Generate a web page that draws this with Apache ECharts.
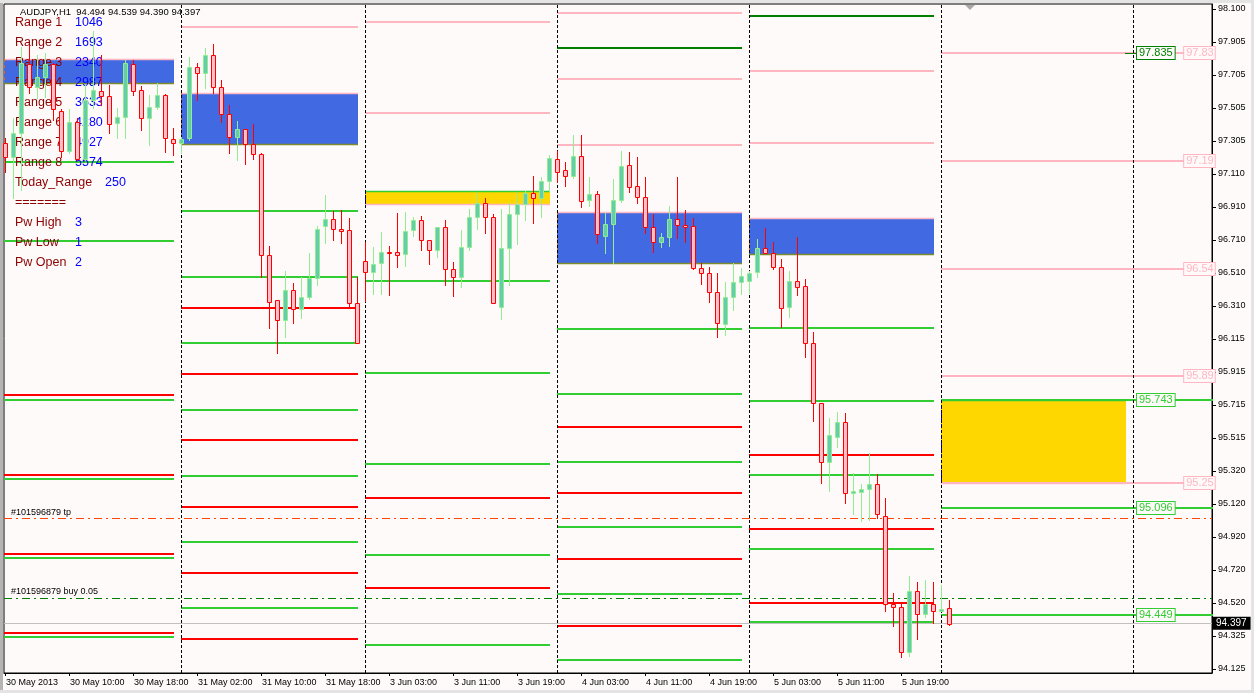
<!DOCTYPE html>
<html><head><meta charset="utf-8">
<script src="https://cdn.jsdelivr.net/npm/echarts@6/dist/echarts.min.js"></script>
<style>html,body{margin:0;padding:0;background:#FFFAFA;}#c{width:1254px;height:693px;}</style>
</head><body><div id="c"></div>
<script>
// ---------------- DATA ----------------
const symbolTitle = 'AUDJPY,H1';
const headerOHLC = ['94.494', '94.539', '94.390', '94.397'];

const timeLabels = ['30 May 2013', '30 May 10:00', '30 May 18:00', '31 May 02:00', '31 May 10:00', '31 May 18:00',
  '3 Jun 03:00', '3 Jun 11:00', '3 Jun 19:00', '4 Jun 03:00', '4 Jun 11:00', '4 Jun 19:00',
  '5 Jun 03:00', '5 Jun 11:00', '5 Jun 19:00'];
const timeLabelBars = [0, 8, 16, 24, 32, 40, 48, 56, 64, 72, 80, 88, 96, 104, 112];

const priceTicks = ['98.100', '97.905', '97.705', '97.505', '97.305', '97.110', '96.910', '96.710', '96.510',
  '96.310', '96.115', '95.915', '95.715', '95.515', '95.320', '95.120', '94.920', '94.720', '94.520',
  '94.325', '94.125'];

// hourly candles [open, high, low, close], bar 0 = 30 May 02:00
const candles = [
  [97.291, 97.321, 97.120, 97.207], [97.207, 97.444, 96.962, 97.351], [97.351, 97.873, 97.010, 97.773],
  [97.769, 97.883, 97.594, 97.628], [97.628, 97.823, 97.564, 97.689], [97.689, 97.835, 97.570, 97.769],
  [97.769, 97.775, 97.431, 97.496], [97.487, 97.498, 97.209, 97.247], [97.247, 97.498, 97.233, 97.421],
  [97.421, 97.444, 97.191, 97.195], [97.195, 97.648, 97.191, 97.552], [97.552, 97.968, 97.504, 97.612],
  [97.608, 97.823, 97.522, 97.576], [97.576, 97.642, 97.351, 97.407], [97.412, 97.504, 97.323, 97.448],
  [97.448, 97.793, 97.323, 97.773], [97.769, 97.793, 97.582, 97.608], [97.612, 97.636, 97.371, 97.442],
  [97.442, 97.582, 97.281, 97.508], [97.512, 97.653, 97.498, 97.582], [97.582, 97.588, 97.241, 97.321],
  [97.315, 97.382, 97.221, 97.291], [97.291, 97.329, 97.231, 97.315], [97.321, 97.809, 97.311, 97.749],
  [97.749, 97.777, 97.552, 97.716], [97.716, 97.863, 97.622, 97.823], [97.823, 97.889, 97.592, 97.628],
  [97.628, 97.672, 97.421, 97.466], [97.466, 97.522, 97.235, 97.327], [97.331, 97.427, 97.191, 97.376],
  [97.376, 97.376, 97.167, 97.285], [97.285, 97.406, 97.198, 97.225], [97.227, 97.235, 96.488, 96.617],
  [96.617, 96.673, 96.181, 96.337], [96.346, 96.347, 96.030, 96.225], [96.225, 96.524, 96.123, 96.406],
  [96.406, 96.448, 96.211, 96.291], [96.291, 96.484, 96.237, 96.364], [96.364, 96.632, 96.352, 96.478],
  [96.478, 96.793, 96.438, 96.773], [96.795, 96.980, 96.693, 96.833], [96.833, 96.883, 96.709, 96.773],
  [96.773, 96.889, 96.693, 96.765], [96.769, 96.840, 96.311, 96.328], [96.328, 96.484, 96.090, 96.090],
  [96.580, 96.698, 96.343, 96.518], [96.514, 96.668, 96.384, 96.562], [96.568, 96.759, 96.384, 96.635],
  [96.637, 96.673, 96.378, 96.634], [96.635, 96.873, 96.548, 96.620], [96.623, 96.879, 96.554, 96.763],
  [96.769, 96.849, 96.733, 96.829], [96.829, 96.853, 96.649, 96.707], [96.709, 96.709, 96.564, 96.647],
  [96.649, 96.785, 96.608, 96.785], [96.785, 96.829, 96.438, 96.532], [96.532, 96.578, 96.373, 96.484],
  [96.484, 96.769, 96.424, 96.668], [96.668, 96.894, 96.649, 96.849], [96.849, 96.994, 96.777, 96.930],
  [96.930, 96.960, 96.753, 96.846], [96.846, 96.865, 96.328, 96.328], [96.303, 96.894, 96.231, 96.659],
  [96.662, 96.930, 96.438, 96.864], [96.864, 96.990, 96.685, 96.924], [96.924, 97.006, 96.829, 96.990],
  [96.990, 97.094, 96.809, 96.960], [96.960, 97.090, 96.849, 97.066], [97.066, 97.221, 97.006, 97.201],
  [97.195, 97.247, 97.060, 97.120], [97.130, 97.180, 97.036, 97.096], [97.096, 97.341, 97.080, 97.215],
  [97.215, 97.341, 96.909, 96.942], [96.948, 97.086, 96.913, 96.984], [96.984, 97.004, 96.689, 96.743],
  [96.735, 96.870, 96.632, 96.803], [96.803, 97.074, 96.568, 96.950], [96.950, 97.245, 96.939, 97.154],
  [97.160, 97.239, 97.000, 97.030], [97.034, 97.209, 96.933, 96.966], [96.966, 97.086, 96.753, 96.785],
  [96.785, 96.865, 96.638, 96.695], [96.695, 96.753, 96.665, 96.725], [96.725, 96.913, 96.673, 96.833],
  [96.833, 97.086, 96.719, 96.797], [96.797, 96.889, 96.698, 96.785], [96.793, 96.843, 96.532, 96.538],
  [96.538, 96.568, 96.442, 96.508], [96.508, 96.548, 96.337, 96.394], [96.394, 96.508, 96.123, 96.207],
  [96.203, 96.454, 96.137, 96.364], [96.364, 96.572, 96.287, 96.454], [96.454, 96.538, 96.384, 96.492],
  [96.464, 96.524, 96.388, 96.508], [96.514, 96.713, 96.488, 96.659], [96.659, 96.783, 96.629, 96.629],
  [96.629, 96.698, 96.536, 96.544], [96.544, 96.593, 96.183, 96.297], [96.303, 96.524, 96.247, 96.462],
  [96.462, 96.729, 96.378, 96.428], [96.430, 96.474, 96.006, 96.087], [96.087, 96.155, 95.621, 95.725],
  [95.725, 95.725, 95.247, 95.370], [95.374, 95.635, 95.199, 95.534], [95.524, 95.671, 95.464, 95.611],
  [95.611, 95.665, 95.123, 95.183], [95.183, 95.304, 95.059, 95.197], [95.193, 95.239, 95.018, 95.209],
  [95.207, 95.424, 95.022, 95.237], [95.237, 95.299, 95.033, 95.057], [95.047, 95.153, 94.476, 94.515],
  [94.515, 94.581, 94.384, 94.497], [94.497, 94.523, 94.196, 94.229], [94.229, 94.685, 94.203, 94.595],
  [94.595, 94.651, 94.304, 94.455], [94.455, 94.661, 94.437, 94.517], [94.517, 94.651, 94.404, 94.473],
  [94.476, 94.631, 94.476, 94.486], [94.494, 94.539, 94.390, 94.397]
];

// day segments (bar index of first and last bar drawn for each day's levels)
const daySeparators = [22, 45, 69, 93, 117, 141];
const dayStart = [-0.125, 22, 45, 69, 93, 117];
const dayEnd = [21, 44, 68, 92, 116, 150.875];

// level lines per day
const supportLevels = [
  [97.180, 96.705, 95.745, 95.271, 94.794, 94.320],
  [96.885, 96.488, 96.090, 95.685, 95.289, 94.890, 94.494],
  [96.459, 95.909, 95.362, 94.812, 94.270],
  [96.173, 95.780, 95.372, 94.979, 94.576, 94.177],
  [96.179, 95.740, 95.295, 94.848, 94.411],
  [95.743, 95.096, 94.449]
];
const resistLevels = [
  [95.777, 95.295, 94.820, 94.343],
  [96.302, 95.904, 95.506, 95.103, 94.703, 94.306],
  [95.152, 94.610],
  [95.585, 95.186, 94.789, 94.387],
  [95.412, 94.971, 94.524],
  []
];
const pivotLevels = [
  [],
  [97.993],
  [98.019, 97.472],
  [98.077, 97.680, 97.278],
  [97.727, 97.291],
  [97.835, 97.186, 96.536, 95.892, 95.247]
];
const majorLevels = [[], [], [], [97.866], [98.058], []];

// range boxes per day
const boxTop = [97.796, 97.592, 97.006, 96.879, 96.840, 95.743];
const boxBottom = [97.657, 97.285, 96.923, 96.573, 96.624, 95.247];
const boxEnd = [21, 44, 68, 92, 116, 140];
const boxKind = ['range', 'range', 'target', 'range', 'range', 'target'];

// tags on the right
const tagPrices = [97.835, 95.743, 95.096, 94.449];
const tagTexts = ['97.835', '95.743', '95.096', '94.449'];
const tagMajor = [true, false, false, false];
const pinkTagPrices = [97.835, 97.186, 96.536, 95.892, 95.247];
const pinkTagTexts = ['97.83', '97.19', '96.54', '95.89', '95.25'];

// order lines
const tpPrice = 95.033;
const buyPrice = 94.551;
const bidPrice = 94.397;
const orderLabels = ['#101596879 tp', '#101596879 buy 0.05'];

// info panel
const infoNames = ['Range 1', 'Range 2', 'Range 3', 'Range 4', 'Range 5', 'Range 6', 'Range 7', 'Range 8',
  'Today_Range', '=======', 'Pw High', 'Pw Low', 'Pw Open'];
const infoValues = ['1046', '1693', '2340', '2987', '3633', '4280', '4927', '5574', '250', '', '3', '1', '2'];

// ---------------- CHART ----------------
const FONT = "'Liberation Sans', Arial, sans-serif";
const BG = '#FFFAFA';
const levelColors = ['#32CD32', '#FF0000', '#FFB6C1', '#008000'];

const levelData = [];
[supportLevels, resistLevels, pivotLevels, majorLevels].forEach((set, kind) => {
  set.forEach((prices, d) => prices.forEach(p => levelData.push([dayStart[d], dayEnd[d], p, kind])));
});
const boxData = boxTop.map((t, d) => [dayStart[d], boxEnd[d], t, boxBottom[d], boxKind[d] === 'range' ? 0 : 1]);
const candleData = candles.map((c, i) => [i, c[0], c[1], c[2], c[3]]);

const tickHi = parseFloat(priceTicks[0]);
const tickLo = parseFloat(priceTicks[priceTicks.length - 1]);
const tickStep = (tickHi - tickLo) / (priceTicks.length - 1);
const tickPositions = priceTicks.map((_, k) => tickHi - k * tickStep);

const graphics = [];
graphics.push({type: 'rect', shape: {x: 0, y: 0, width: 3, height: 693}, style: {fill: '#B4B4B4'}, z: 100});
graphics.push({type: 'rect', shape: {x: 0, y: 0, width: 1254, height: 3}, style: {fill: '#E4E4E4'}, z: 100});
graphics.push({type: 'rect', shape: {x: 0, y: 690, width: 1254, height: 3}, style: {fill: '#E4E4E4'}, z: 100});
graphics.push({type: 'rect', shape: {x: 1251, y: 0, width: 3, height: 693}, style: {fill: '#E4E4E4'}, z: 100});
graphics.push({type: 'polygon', shape: {points: [[965, 5], [975, 5], [970, 10]]}, style: {fill: '#A8A8A8'}, z: 20});
graphics.push({type: 'text', x: 20, y: 12, z: 20, style: {text: symbolTitle + '  ' + headerOHLC.join(' '),
  font: '9.5px ' + FONT, fill: '#000', verticalAlign: 'middle'}});
infoNames.forEach((n, r) => {
  const y = 23 + r * 20;
  graphics.push({type: 'text', x: 15, y, z: 5, style: {text: n, font: '12.5px ' + FONT, fill: '#8B0000', verticalAlign: 'middle'}});
  if (infoValues[r]) {
    graphics.push({type: 'text', x: n === 'Today_Range' ? 105 : 75, y, z: 5,
      style: {text: infoValues[r], font: '12.5px ' + FONT, fill: '#0000FF', verticalAlign: 'middle'}});
  }
});

const option = {
  animation: false,
  backgroundColor: BG,
  grid: {left: 4, right: 42, top: 4, bottom: 20, show: true, borderColor: '#000', borderWidth: 1, backgroundColor: BG},
  xAxis: {
    type: 'value', min: -0.125, max: 150.875,
    splitLine: {show: false},
    axisLine: {show: true, onZero: false, lineStyle: {color: '#000'}},
    axisTick: {show: true, customValues: timeLabelBars, length: 3, lineStyle: {color: '#000'}},
    axisLabel: {show: true, customValues: timeLabelBars, align: 'left', margin: 5, color: '#000',
      fontFamily: FONT, fontSize: 9, padding: [0, 0, 0, 1],
      formatter: v => timeLabels[timeLabelBars.indexOf(Math.round(v))] || ''}
  },
  yAxis: {
    type: 'value', position: 'right', min: 94.1010, max: 98.1301, scale: true,
    splitLine: {show: false},
    axisLine: {show: true, onZero: false, lineStyle: {color: '#000'}},
    axisTick: {show: true, customValues: tickPositions, length: 4, lineStyle: {color: '#000'}},
    axisLabel: {show: true, customValues: tickPositions, margin: 6, color: '#000', fontFamily: FONT, fontSize: 9,
      formatter: v => {
        let best = 0, bd = 1e9;
        tickPositions.forEach((t, k) => { const d = Math.abs(t - v); if (d < bd) { bd = d; best = k; } });
        return priceTicks[best];
      }}
  },
  graphic: {elements: graphics},
  series: [
    { // range boxes
      type: 'custom', z: 2, silent: true,
      data: boxData, encode: {x: [0, 1], y: [2, 3]},
      renderItem(params, api) {
        const x0 = Math.round(api.coord([api.value(0), api.value(2)])[0]);
        const x1 = Math.round(api.coord([api.value(1), api.value(2)])[0]) + 1;
        const yT = Math.round(api.coord([0, api.value(2)])[1]);
        const yB = Math.round(api.coord([0, api.value(3)])[1]);
        const isRange = api.value(4) === 0;
        const fill = isRange ? '#4169E1' : '#FFD700';
        const topC = isRange ? '#FFB6C1' : '#32CD32';
        const botC = isRange ? '#7C8B2E' : '#FFB6C1';
        return {type: 'group', children: [
          {type: 'rect', shape: {x: x0, y: yT, width: x1 - x0, height: yB - yT}, style: {fill}},
          {type: 'line', shape: {x1: x0, y1: yT + 0.5, x2: x1, y2: yT + 0.5}, style: {stroke: topC, lineWidth: 1.5}},
          {type: 'line', shape: {x1: x0, y1: yB + 0.5, x2: x1, y2: yB + 0.5}, style: {stroke: botC, lineWidth: 1.5}},
          {type: 'line', shape: {x1: x0 + 0.5, y1: yT, x2: x0 + 0.5, y2: yB},
            style: {stroke: isRange ? '#D2691E' : '#0000FF', lineWidth: 1, lineDash: [3, 3]}}
        ]};
      }
    },
    { // daily level lines
      type: 'custom', z: 3, silent: true,
      data: levelData, encode: {x: [0, 1], y: 2},
      renderItem(params, api) {
        const s = api.coord([api.value(0), api.value(2)]);
        const e = api.coord([api.value(1), api.value(2)]);
        const y = Math.round(s[1]);
        return {type: 'line', shape: {x1: Math.round(s[0]), y1: y, x2: Math.round(e[0]) + 1, y2: y},
          style: {stroke: levelColors[api.value(3)], lineWidth: 2}};
      }
    },
    { // separators & order lines
      type: 'line', data: [], z: 4, silent: true,
      markLine: {
        silent: true, symbol: ['none', 'none'], animation: false,
        data: [
          ...daySeparators.map(v => ({xAxis: v, lineStyle: {color: '#000', width: 1, type: [3, 2]}, label: {show: false}})),
          {yAxis: tpPrice, lineStyle: {color: '#FF4500', width: 1, type: [8, 4, 2, 4]},
            label: {show: true, position: 'insideStartTop', formatter: orderLabels[0], color: '#000', fontFamily: FONT, fontSize: 9, distance: [7, 2]}},
          {yAxis: buyPrice, lineStyle: {color: '#008000', width: 1, type: [8, 4, 2, 4]},
            label: {show: true, position: 'insideStartTop', formatter: orderLabels[1], color: '#000', fontFamily: FONT, fontSize: 9, distance: [7, 2]}},
          {yAxis: bidPrice, lineStyle: {color: '#C0C0C0', width: 1, type: 'solid'},
            label: {show: true, position: 'end', formatter: bidPrice.toFixed(3), color: '#FFF', backgroundColor: '#000',
              fontFamily: FONT, fontSize: 10, padding: [2, 4, 1, 3], distance: 1}}
        ]
      }
    },
    { // candles
      type: 'custom', z: 10, silent: true,
      data: candleData, encode: {x: 0, y: [1, 2, 3, 4]},
      renderItem(params, api) {
        const i = api.value(0), o = api.value(1), h = api.value(2), l = api.value(3), c = api.value(4);
        const x = Math.round(api.coord([i, o])[0]);
        const yo = api.coord([i, o])[1], yc = api.coord([i, c])[1];
        const yh = Math.round(api.coord([i, h])[1]), yl = Math.round(api.coord([i, l])[1]);
        const bull = c > o;
        const line = bull ? '#90EE90' : '#FF0000';
        const fill = bull ? '#66CDAA' : '#FFC0CB';
        const t = Math.round(Math.min(yo, yc)), b = Math.round(Math.max(yo, yc));
        return {type: 'group', children: [
          {type: 'line', shape: {x1: x + 0.5, y1: yh, x2: x + 0.5, y2: yl + 1}, style: {stroke: line, lineWidth: 1}},
          {type: 'rect', shape: {x: x - 1.5, y: t + 0.5, width: 4, height: Math.max(b - t, 1)}, style: {fill, stroke: line, lineWidth: 1}}
        ]};
      }
    },
    { // right-hand price tags (green)
      type: 'custom', z: 12, silent: true,
      data: tagPrices.map((p, k) => [p, k]), encode: {y: 0},
      renderItem(params, api) {
        const k = api.value(1), p = api.value(0);
        const y = Math.round(api.coord([0, p])[1]);
        const xTag = api.coord([141.5, p])[0];
        const col = tagMajor[k] ? '#008000' : '#32CD32';
        const ch = [];
        if (tagMajor[k]) {
          ch.push({type: 'line', shape: {x1: api.coord([140, p])[0], y1: y + 0.5, x2: xTag, y2: y + 0.5}, style: {stroke: col, lineWidth: 1}});
        }
        ch.push({type: 'text', x: xTag, y: y, style: {text: tagTexts[k], font: '11px ' + FONT, fill: col,
          verticalAlign: 'middle', align: 'left', backgroundColor: BG, borderColor: col, borderWidth: 1, padding: [1, 2, 0, 2]}});
        return {type: 'group', children: ch};
      }
    },
    { // right-hand price tags (pink)
      type: 'custom', z: 12, silent: true,
      data: pinkTagPrices.map((p, k) => [p, k]), encode: {y: 0},
      renderItem(params, api) {
        const k = api.value(1), p = api.value(0);
        const y = Math.round(api.coord([0, p])[1]);
        const xTag = api.coord([147.4, p])[0];
        return {type: 'text', x: xTag, y: y, style: {text: pinkTagTexts[k], font: '11px ' + FONT, fill: '#FFB6C1',
          verticalAlign: 'middle', align: 'left', backgroundColor: BG, borderColor: '#FFB6C1', borderWidth: 1, padding: [1, 1, 0, 2]}};
      }
    }
  ]
};
const chart = echarts.init(document.getElementById('c'));
chart.setOption(option);
</script>
</body></html>
